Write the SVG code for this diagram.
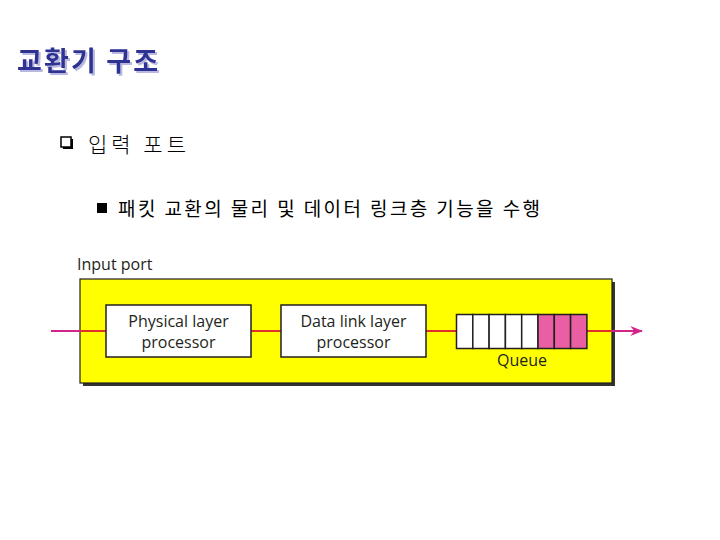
<svg xmlns="http://www.w3.org/2000/svg" width="720" height="540" viewBox="0 0 720 540">
<defs>
<style>
.ko{font-family:"Noto Sans CJK KR","Noto Sans",sans-serif}
.en{font-family:"Open Sans","Liberation Sans",sans-serif;font-size:16px;fill:#231f20}
.box{fill:#fff;stroke:#231f20;stroke-width:1.5}
.cell{fill:#fff;stroke:#231f20;stroke-width:1.5}
.pk{fill:#ea5fa3;stroke:#231f20;stroke-width:1.5}
.wire{stroke:#e0302a;stroke-width:2;fill:none}
.wireo{stroke:#d4248a;stroke-width:2;fill:none}
</style>
<filter id="sh" x="-5%" y="-20%" width="115%" height="150%">
<feDropShadow dx="2" dy="2" stdDeviation="0.6" flood-color="#b8b8e0" flood-opacity="1"/>
</filter>
<marker id="ah" viewBox="0 0 10 10" refX="9" refY="5" markerWidth="13" markerHeight="10" orient="auto" markerUnits="userSpaceOnUse" preserveAspectRatio="none">
<path d="M0,0 L10,5 L0,10 L3,5 Z" fill="#d4248a"/>
</marker>
</defs>
<rect width="720" height="540" fill="#fff"/>
<g id="title">
<text x="17" y="71" class="ko" font-size="27" font-weight="bold" fill="#2e3192" textLength="141" lengthAdjust="spacing" filter="url(#sh)">교환기 구조</text>
</g>
<g id="bullet1">
<rect x="63" y="139" width="10" height="10" fill="#000"/>
<rect x="61" y="137" width="10" height="10" fill="#fff" stroke="#000" stroke-width="1.5"/>
<text x="88" y="152" class="ko" font-size="21" font-weight="300" fill="#000" textLength="98" lengthAdjust="spacing">입력 포트</text>
</g>
<g id="bullet2">
<rect x="97" y="203" width="10" height="10" fill="#000"/>
<text x="118" y="216" class="ko" font-size="19" fill="#000" textLength="422" lengthAdjust="spacing">패킷 교환의 물리 및 데이터 링크층 기능을 수행</text>
</g>
<g id="input-port">
<text x="77" y="270" class="en" font-size="15">Input port</text>
<rect x="83" y="282" width="532" height="104" fill="#333"/>
<rect x="80" y="279" width="532" height="104" fill="#ffff00" stroke="#231f20" stroke-width="1.2"/>
</g>
<g id="connectors">
<line x1="51" y1="331" x2="80" y2="331" class="wireo"/>
<line x1="80" y1="331" x2="106" y2="331" class="wire"/>
<line x1="251" y1="331" x2="281" y2="331" class="wire"/>
<line x1="426" y1="331" x2="456" y2="331" class="wire"/>
<line x1="587" y1="331" x2="612" y2="331" class="wire"/>
<line x1="612" y1="331" x2="642" y2="331" class="wireo" marker-end="url(#ah)"/>
</g>
<g id="physical">
<rect x="106" y="305" width="145" height="52" class="box"/>
<text x="178.5" y="327" class="en" text-anchor="middle">Physical layer</text>
<text x="178.5" y="348" class="en" text-anchor="middle">processor</text>
</g>
<g id="datalink">
<rect x="281" y="305" width="145" height="52" class="box"/>
<text x="353.5" y="327" class="en" text-anchor="middle">Data link layer</text>
<text x="353.5" y="348" class="en" text-anchor="middle">processor</text>
</g>
<g id="queue">
<rect x="456.5" y="314.5" width="16.3" height="34" class="cell"/>
<rect x="472.8" y="314.5" width="16.3" height="34" class="cell"/>
<rect x="489.1" y="314.5" width="16.3" height="34" class="cell"/>
<rect x="505.4" y="314.5" width="16.3" height="34" class="cell"/>
<rect x="521.7" y="314.5" width="16.3" height="34" class="cell"/>
<rect x="538" y="314.5" width="16.3" height="34" class="pk"/>
<rect x="554.3" y="314.5" width="16.3" height="34" class="pk"/>
<rect x="570.6" y="314.5" width="16.3" height="34" class="pk"/>
<text x="522" y="366" class="en" text-anchor="middle">Queue</text>
</g>
</svg>
